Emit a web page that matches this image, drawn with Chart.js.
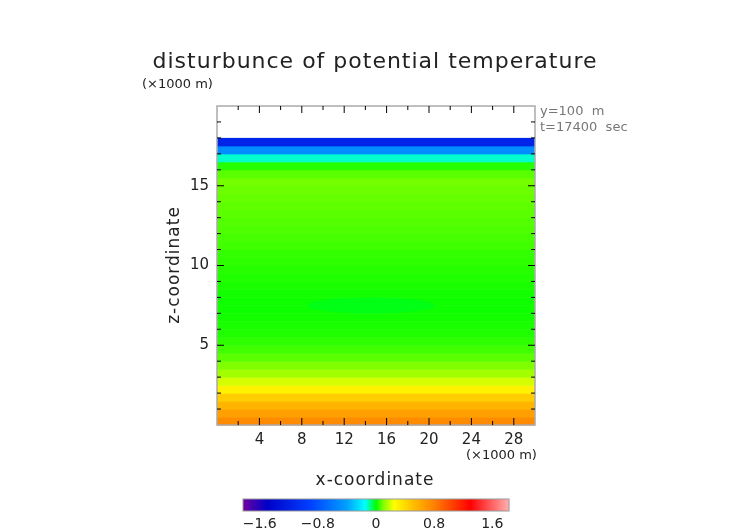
<!DOCTYPE html>
<html><head><meta charset="utf-8">
<script src="https://cdn.jsdelivr.net/npm/chart.js@4/dist/chart.umd.min.js"></script>
<style>body{margin:0;background:#fff}#wrap{position:relative;width:752px;height:532px}canvas{position:absolute;left:0;top:0}</style>
</head><body><div id="wrap"><canvas id="c" width="752" height="532"></canvas><canvas id="cb" width="752" height="532"></canvas></div>
<script>
// vertical levels (km, cell centres) and disturbance values (K)
const zLevels = [0.25,0.75,1.25,1.75,2.25,2.75,3.25,3.75,4.25,4.75,5.25,5.75,6.25,6.75,7.25,7.75,8.25,8.75,9.25,9.75,10.25,10.75,11.25,11.75,12.25,12.75,13.25,13.75,14.25,14.75,15.25,15.75,16.25,16.75,17.25,17.75];
const profile = [0.75,0.65,0.55,0.45,0.3,0.2,0.14,0.1,0.07,0.05,0.035,0.025,0.02,0.015,0.01,0.01,0.015,0.02,0.025,0.03,0.035,0.04,0.05,0.055,0.06,0.065,0.07,0.075,0.08,0.085,0.09,0.07,0.03,-0.12,-0.5,-1.15];
// local anomalies: [x0, x1, z0, z1, value]
const anomalies = [[8.5,20.5,7.0,8.0,-0.012]];
const xTicks = [4,8,12,16,20,24,28];
const zTicks = [5,10,15];
const cbTicks = [-1.6,-0.8,0,0.8,1.6];
const cmapStops = [[-1.83,[112,0,160]],[-1.5,[0,0,200]],[-0.9,[0,64,255]],[-0.4,[0,160,255]],[-0.15,[0,255,255]],[0,[0,255,0]],[0.1,[128,255,0]],[0.25,[255,255,0]],[0.5,[255,192,0]],[0.8,[255,128,0]],[1.3,[255,0,0]],[1.83,[255,176,176]]];
function cmap(v){
  if(v<=cmapStops[0][0]) return 'rgb('+cmapStops[0][1]+')';
  for(let i=1;i<cmapStops.length;i++){const [a,ca]=cmapStops[i-1],[b,cb]=cmapStops[i];
    if(v<=b){const t=(v-a)/(b-a);return 'rgb('+ca.map((c,k)=>Math.round(c+(cb[k]-c)*t)).join(',')+')';}}
  return 'rgb('+cmapStops[cmapStops.length-1][1]+')';
}
const F="'DejaVu Sans', sans-serif";
const field={id:'field',beforeDatasetsDraw(ch){
  const {ctx,scales:{x,y}}=ch;ctx.save();
  zLevels.forEach((z,i)=>{
    const y0=y.getPixelForValue(z+0.25),y1=y.getPixelForValue(z-0.25);
    ctx.fillStyle=cmap(profile[i]);
    ctx.fillRect(x.getPixelForValue(0),y0,x.getPixelForValue(30)-x.getPixelForValue(0),y1-y0+0.5);
  });
  anomalies.forEach(([a,b,z0,z1,v])=>{
    const px0=x.getPixelForValue(a),px1=x.getPixelForValue(b),py0=y.getPixelForValue(z1),py1=y.getPixelForValue(z0);
    ctx.fillStyle=cmap(v);ctx.beginPath();
    ctx.ellipse((px0+px1)/2,(py0+py1)/2,(px1-px0)/2,(py1-py0)/2,0,0,Math.PI*2);ctx.fill();
  });
  ctx.restore();
},afterDraw(ch){
  const {ctx,chartArea:a,scales:{x,y}}=ch;ctx.save();
  ctx.strokeStyle='#aaa';ctx.lineWidth=1.5;ctx.strokeRect(a.left,a.top,a.right-a.left,a.bottom-a.top);
  ctx.strokeStyle='#000';ctx.lineWidth=1;ctx.beginPath();
  for(let v=2;v<30;v+=2){const p=x.getPixelForValue(v),L=v%4===0?7:4;
    ctx.moveTo(p,a.bottom);ctx.lineTo(p,a.bottom-L);ctx.moveTo(p,a.top);ctx.lineTo(p,a.top+L);}
  for(let v=1;v<20;v++){const p=y.getPixelForValue(v),L=v%5===0?7:4;
    ctx.moveTo(a.left,p);ctx.lineTo(a.left+L,p);ctx.moveTo(a.right,p);ctx.lineTo(a.right-L,p);}
  ctx.stroke();
  ctx.fillStyle='#222';ctx.font='15px '+F;ctx.textAlign='center';ctx.textBaseline='middle';
  xTicks.forEach(v=>ctx.fillText(v,x.getPixelForValue(v),a.bottom+15));
  ctx.textAlign='right';zTicks.forEach(v=>ctx.fillText(v,a.left-8,y.getPixelForValue(v)));
  ctx.textAlign='left';ctx.font='13px '+F;
  ctx.fillText('(×1000 m)',466,456);ctx.fillText('(×1000 m)',142,85);
  ctx.fillStyle='#777';ctx.fillText('y=100  m',540,112);ctx.fillText('t=17400  sec',540,128);
  ctx.fillStyle='#222';ctx.textAlign='center';ctx.font='22px '+F;
  if(ctx.letterSpacing!==undefined) ctx.letterSpacing='1px';
  ctx.fillText('disturbunce of potential temperature',375,62);
  ctx.font='17px '+F;ctx.fillText('x-coordinate',375,481);
  ctx.translate(175,265);ctx.rotate(-Math.PI/2);ctx.fillText('z-coordinate',0,0);
  ctx.restore();
}};
new Chart(document.getElementById('c'),{type:'scatter',data:{datasets:[{data:[]}]},
  options:{responsive:false,animation:false,layout:{padding:{left:177,right:217,top:106,bottom:77}},
    plugins:{legend:{display:false},tooltip:{enabled:false}},
    scales:{x:{type:'linear',min:0,max:30,ticks:{display:false},grid:{display:false},border:{display:false},afterFit(s){s.height=30;}},
            y:{type:'linear',min:0,max:20,ticks:{display:false},grid:{display:false},border:{display:false},afterFit(s){s.width=40;}}}},
  plugins:[field]});
const cbPlug={id:'cbp',beforeDatasetsDraw(ch){
  const {ctx,chartArea:a,scales:{x}}=ch;ctx.save();
  for(let p=Math.floor(a.left);p<a.right;p++){ctx.fillStyle=cmap(x.getValueForPixel(p+0.5));ctx.fillRect(p,a.top,1.2,a.bottom-a.top);}
  ctx.strokeStyle='#999';ctx.lineWidth=1;ctx.strokeRect(a.left,a.top,a.right-a.left,a.bottom-a.top);
  ctx.fillStyle='#222';ctx.font='14px '+F;ctx.textAlign='center';ctx.textBaseline='middle';
  cbTicks.forEach(v=>ctx.fillText(v===0?'0':(v<0?'−'+(-v):v),x.getPixelForValue(v),a.bottom+13));
  ctx.restore();
}};
new Chart(document.getElementById('cb'),{type:'scatter',data:{datasets:[{data:[]}]},
  options:{responsive:false,animation:false,layout:{padding:{left:243,right:243,top:499,bottom:0}},
    plugins:{legend:{display:false},tooltip:{enabled:false}},
    scales:{x:{type:'linear',min:-1.83,max:1.83,ticks:{display:false},grid:{display:false},border:{display:false},afterFit(s){s.height=21;}},
            y:{display:false,min:0,max:1}}},
  plugins:[cbPlug]});
</script></body></html>
